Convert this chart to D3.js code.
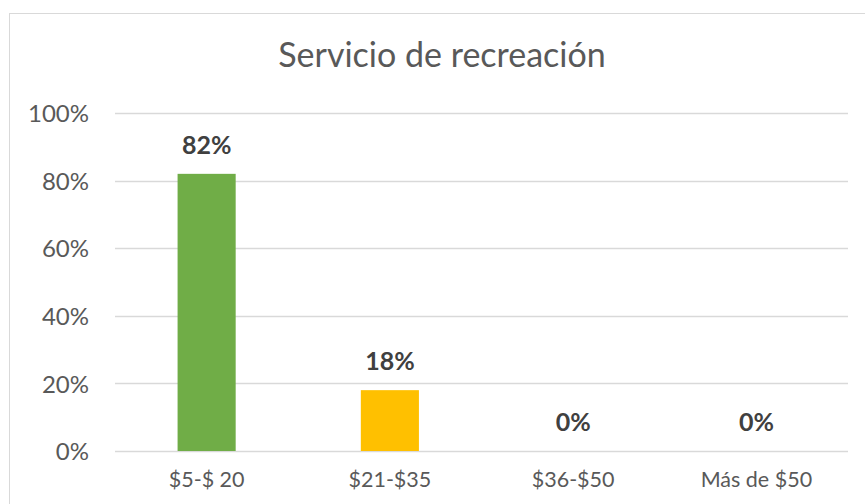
<!DOCTYPE html>
<html>
<head>
<meta charset="utf-8">
<script src="https://cdn.jsdelivr.net/npm/d3@7"></script>
<style>
  body { margin: 0; background: #fff; }
  svg text { font-family: Lato, "Open Sans", sans-serif; }
</style>
</head>
<body>
<div id="chart"></div>
<script>
var categories = ['$5-$ 20', '$21-$35', '$36-$50', 'Más de $50'];
var values = [0.82, 0.18, 0, 0];
var barColors = ['#70AD47', '#FFC000', '#5B9BD5', '#A5A5A5'];
var yTicks = [0, 0.2, 0.4, 0.6, 0.8, 1];

var width = 865, height = 504;
var margin = { top: 113, right: 17, bottom: 53, left: 115 };

var svg = d3.select('#chart')
  .append('svg')
  .attr('width', width)
  .attr('height', height);

// chart border
svg.append('rect')
  .attr('x', 9.5)
  .attr('y', 13.5)
  .attr('width', 870)
  .attr('height', 500)
  .attr('fill', 'none')
  .attr('stroke', '#d9d9d9');

var x = d3.scaleBand()
  .domain(categories)
  .range([margin.left, width - margin.right])
  .paddingInner(0.683)
  .paddingOuter(0.3415);

var y = d3.scaleLinear()
  .domain([0, 1])
  .range([height - margin.bottom, margin.top]);

// gridlines
svg.append('g')
  .selectAll('line')
  .data(yTicks)
  .enter()
  .append('line')
  .attr('x1', margin.left)
  .attr('x2', width - margin.right)
  .attr('y1', function(d) { return Math.round(y(d)) + 0.5; })
  .attr('y2', function(d) { return Math.round(y(d)) + 0.5; })
  .attr('stroke', '#d9d9d9')
  .attr('stroke-width', 1.3);

// y axis labels
var yAxis = d3.axisLeft(y)
  .tickValues(yTicks)
  .tickFormat(d3.format('.0%'))
  .tickSize(0)
  .tickPadding(26);

svg.append('g')
  .attr('transform', 'translate(' + margin.left + ',0)')
  .call(yAxis)
  .call(function(g) { g.select('.domain').remove(); })
  .selectAll('text')
  .attr('fill', '#595959')
  .attr('dy', '0.36em')
  .style('font-size', '24px');

// bars
svg.append('g')
  .selectAll('rect')
  .data(values)
  .enter()
  .append('rect')
  .attr('x', function(d, i) { return x(categories[i]); })
  .attr('width', x.bandwidth())
  .attr('y', function(d) { return y(d); })
  .attr('height', function(d) { return y(0) - y(d); })
  .attr('fill', function(d, i) { return barColors[i]; });

// value labels
svg.append('g')
  .selectAll('text')
  .data(values)
  .enter()
  .append('text')
  .attr('x', function(d, i) { return x(categories[i]) + x.bandwidth() / 2; })
  .attr('y', function(d) { return y(d) - 20; })
  .attr('text-anchor', 'middle')
  .attr('fill', '#404040')
  .style('font-size', '25px')
  .style('font-weight', 'bold')
  .text(function(d) { return d3.format('.0%')(d); });

// x axis labels
var xAxis = d3.axisBottom(x).tickSize(0).tickPadding(0);
svg.append('g')
  .attr('transform', 'translate(0,' + y(0) + ')')
  .call(xAxis)
  .call(function(g) { g.select('.domain').remove(); })
  .selectAll('text')
  .attr('fill', '#595959')
  .attr('dy', null)
  .attr('y', 36)
  .style('font-size', '21.5px');

// title
svg.append('text')
  .attr('x', 442)
  .attr('y', 67)
  .attr('text-anchor', 'middle')
  .attr('fill', '#595959')
  .style('font-size', '34px')
  .text('Servicio de recreación');
</script>
</body>
</html>
